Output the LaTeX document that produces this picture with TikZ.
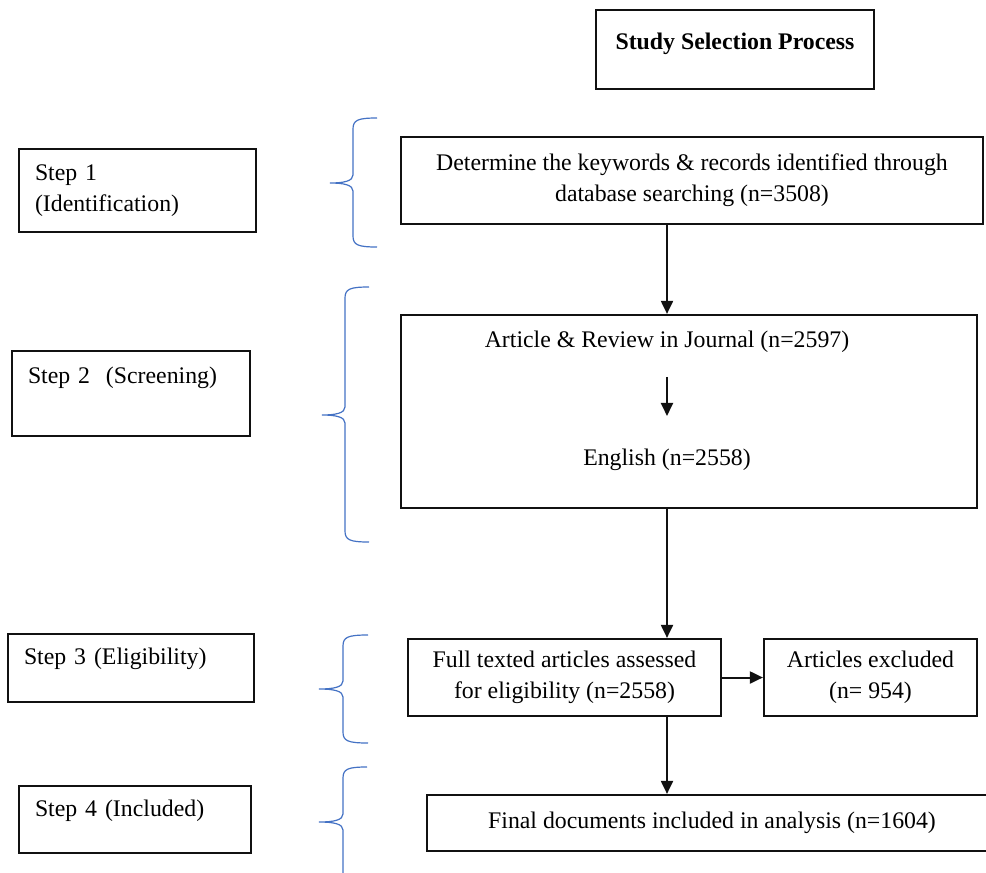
\documentclass[tikz,border=0pt]{standalone}
\usepackage{fontspec}
\setmainfont{Liberation Serif}
\usepackage{tikz}
\usetikzlibrary{arrows.meta, positioning, calc}
\definecolor{selblue}{HTML}{4472C4}
\definecolor{selink}{HTML}{111111}
\newcommand{\selfont}{\fontsize{23.8}{31}\selectfont}
% curly brace: end x, stem x, tip x, top y, tip y, bottom y
\newcommand{\stagebrace}[6]{%
  \draw[bracepen] (#1,#4) .. controls (#2+5,#4) and (#2,#4+2) .. (#2,#4+11)
    -- (#2,#5-8) .. controls (#2,#5-2) and (#2-9,#5) .. (#3,#5)
    .. controls (#2-9,#5) and (#2,#5+2) .. (#2,#5+8)
    -- (#2,#6-11) .. controls (#2,#6-2) and (#2+5,#6) .. (#1,#6);}

\begin{document}
\begin{tikzpicture}[x=1pt, y=-1pt, font=\selfont,
    box/.style={draw=selink, line width=2.2pt, align=center, inner sep=0pt},
    stepbox/.style={box, align=left},
    flow/.style={draw=selink, line width=2pt, -{Triangle[length=13pt,width=12pt]}},
    bracepen/.style={draw=selblue, line width=1.2pt}]
  \clip (0,0) rectangle (986,873);
  % title
  \node[box, minimum width=278pt, minimum height=79pt, text depth=17pt, font=\selfont\bfseries] (title) at (735,49.5) {Study Selection Process};
  % steps (left column)
  \node[stepbox, minimum width=237pt, minimum height=83pt, text width=205pt] (step1) at (137.5,190.5) {Step 1\\(Identification)};
  \node[stepbox, minimum width=238pt, minimum height=85pt, text width=206pt] (step2) at (131,393.5) {Step 2\ \ (Screening)\\[-4pt]\strut};
  \node[stepbox, minimum width=246pt, minimum height=68pt, text width=214pt] (step3) at (131,668) {Step 3 (Eligibility)\\[-17pt]\strut};
  \node[stepbox, minimum width=232pt, minimum height=67pt, text width=200pt] (step4) at (135,819.5) {Step 4 (Included)\\[-18pt]\strut};
  % braces
  \stagebrace{377}{353}{330}{118}{183}{247}
  \stagebrace{369}{345}{322}{287}{415}{542}
  \stagebrace{368}{343}{319}{635}{689}{743}
  \stagebrace{367}{343}{319}{767}{822}{900}
  % flow (right column)
  \node[box, minimum width=582pt, minimum height=87pt] (records) at (692,180.5) {Determine the keywords \& records identified through\\database searching (n=3508)};
  \node[box, minimum width=576pt, minimum height=193pt] (screen) at (689,411.5) {};
  \node[inner sep=0pt] (journal) at (667,342) {Article \& Review in Journal (n=2597)};
  \node[inner sep=0pt] (english) at (667,460) {English (n=2558)};
  \node[box, minimum width=313pt, minimum height=77pt] (fulltext) at (564.5,677.5) {Full texted articles assessed\\for eligibility (n=2558)};
  \node[box, minimum width=213pt, minimum height=77pt] (excluded) at (870.5,677.5) {Articles excluded\\(n= 954)};
  \node[box, minimum width=570pt, minimum height=56pt] (final) at (712,823) {Final documents included in analysis (n=1604)};
  % arrows
  \draw[flow] (records.south -| journal) -- (screen.north -| journal);
  \draw[flow, shorten <=24pt, shorten >=33pt] (journal) -- (english);
  \draw[flow] (screen.south -| journal) -- (fulltext.north -| journal);
  \draw[flow] (fulltext) -- (excluded);
  \draw[flow] (fulltext.south -| journal) -- (final.north -| journal);
\end{tikzpicture}
\end{document}
